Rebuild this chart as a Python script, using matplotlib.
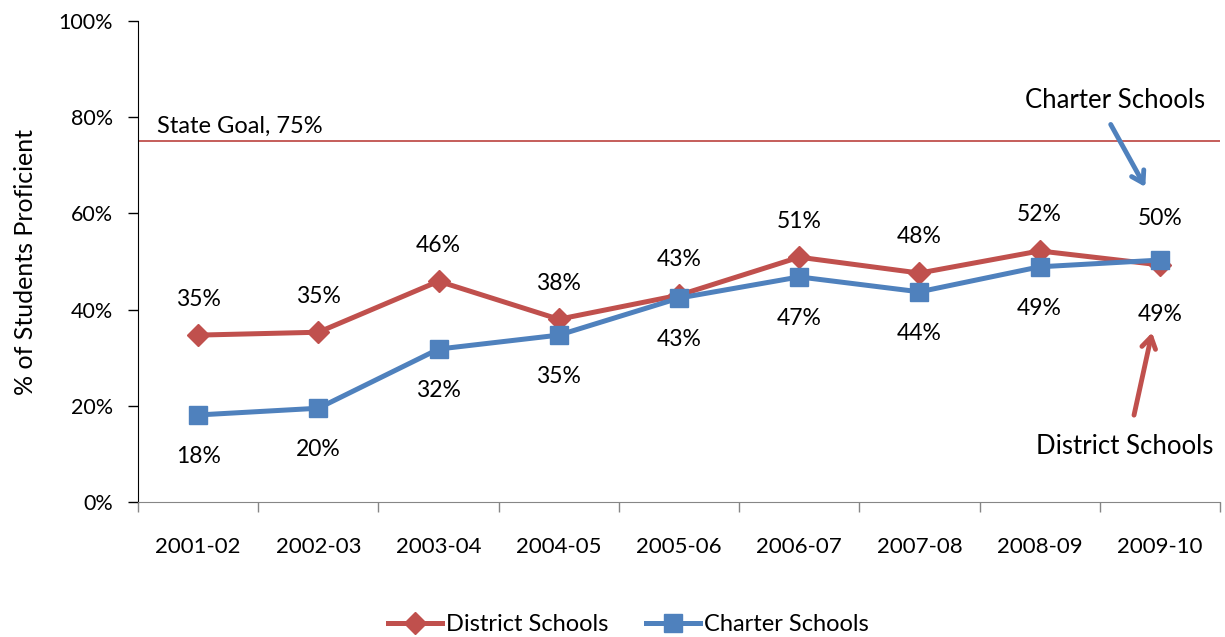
import numpy as np
import matplotlib.pyplot as plt
from matplotlib.ticker import FixedLocator, PercentFormatter

years = ['2001-02', '2002-03', '2003-04', '2004-05', '2005-06',
         '2006-07', '2007-08', '2008-09', '2009-10']
district = [34.7, 35.3, 45.9, 38.0, 43.0, 50.9, 47.6, 52.2, 49.3]
charter = [18.1, 19.5, 31.8, 34.7, 42.4, 46.8, 43.7, 48.9, 50.3]
district_labels = ['35%', '35%', '46%', '38%', '43%', '51%', '48%', '52%', '49%']
charter_labels = ['18%', '20%', '32%', '35%', '43%', '47%', '44%', '49%', '50%']
state_goal = 75

RED = '#C0504D'
BLUE = '#4F81BD'

plt.rcParams['font.family'] = ['Lato', 'DejaVu Sans']

fig = plt.figure(figsize=(12.25, 6.37), dpi=100)
ax = fig.add_axes([0.1127, 0.2119, 0.8832, 0.7551])

x = np.arange(len(years))
ax.axhline(state_goal, color=RED, lw=1.3, zorder=1)
ax.text(-0.34, state_goal + 0.9, 'State Goal, 75%', fontsize=17, va='bottom', ha='left')

ax.plot(x, district, color=RED, lw=3.6, marker='D', markersize=11,
        label='District Schools', zorder=3)
ax.plot(x, charter, color=BLUE, lw=3.6, marker='s', markersize=13,
        label='Charter Schools', zorder=4)

last = len(years) - 1
for i in x:
    if i == last:
        d_off, c_off = -36, 30
    else:
        d_off, c_off = 26, -30
    ax.annotate(district_labels[i], (i, district[i]), xytext=(0, d_off),
                textcoords='offset points', ha='center', va='center', fontsize=16.5)
    ax.annotate(charter_labels[i], (i, charter[i]), xytext=(0, c_off),
                textcoords='offset points', ha='center', va='center', fontsize=16.5)

# callout arrows
ax.annotate('', xy=(7.89, 65.0), xytext=(7.58, 79.0),
            arrowprops=dict(arrowstyle='->,head_length=0.8,head_width=0.5',
                            color=BLUE, lw=3.5))
ax.text(7.63, 83.4, 'Charter Schools', fontsize=18.5, ha='center', va='center')
ax.annotate('', xy=(7.94, 35.8), xytext=(7.78, 17.5),
            arrowprops=dict(arrowstyle='->,head_length=0.8,head_width=0.5',
                            color=RED, lw=3.5))
ax.text(7.71, 11.6, 'District Schools', fontsize=18.5, ha='center', va='center')

ax.set_xlim(-0.5, 8.5)
ax.set_ylim(0, 100)
ax.set_yticks(np.arange(0, 101, 20))
ax.yaxis.set_major_formatter(PercentFormatter(decimals=0))
ax.set_xticks(x)
ax.set_xticklabels(years)
ax.xaxis.set_minor_locator(FixedLocator(np.arange(-0.5, 9, 1)))
ax.tick_params(axis='x', which='major', length=0, pad=25, labelsize=16)
ax.tick_params(axis='x', which='minor', length=7, color='#868686', width=1)
ax.tick_params(axis='y', length=7, width=1, pad=11, labelsize=15.5)
ax.set_ylabel('% of Students Proficient', fontsize=18)
ax.yaxis.set_label_coords(-0.093, 0.5)

for side in ['top', 'right']:
    ax.spines[side].set_visible(False)
ax.spines['bottom'].set_color('#868686')
ax.spines['left'].set_color('black')

ax.legend(loc='center', bbox_to_anchor=(0.453, -0.255), ncol=2, frameon=False,
          fontsize=17, handlelength=2.3, columnspacing=1.6, handletextpad=0.15)

fig.savefig('out.png', dpi=100)
